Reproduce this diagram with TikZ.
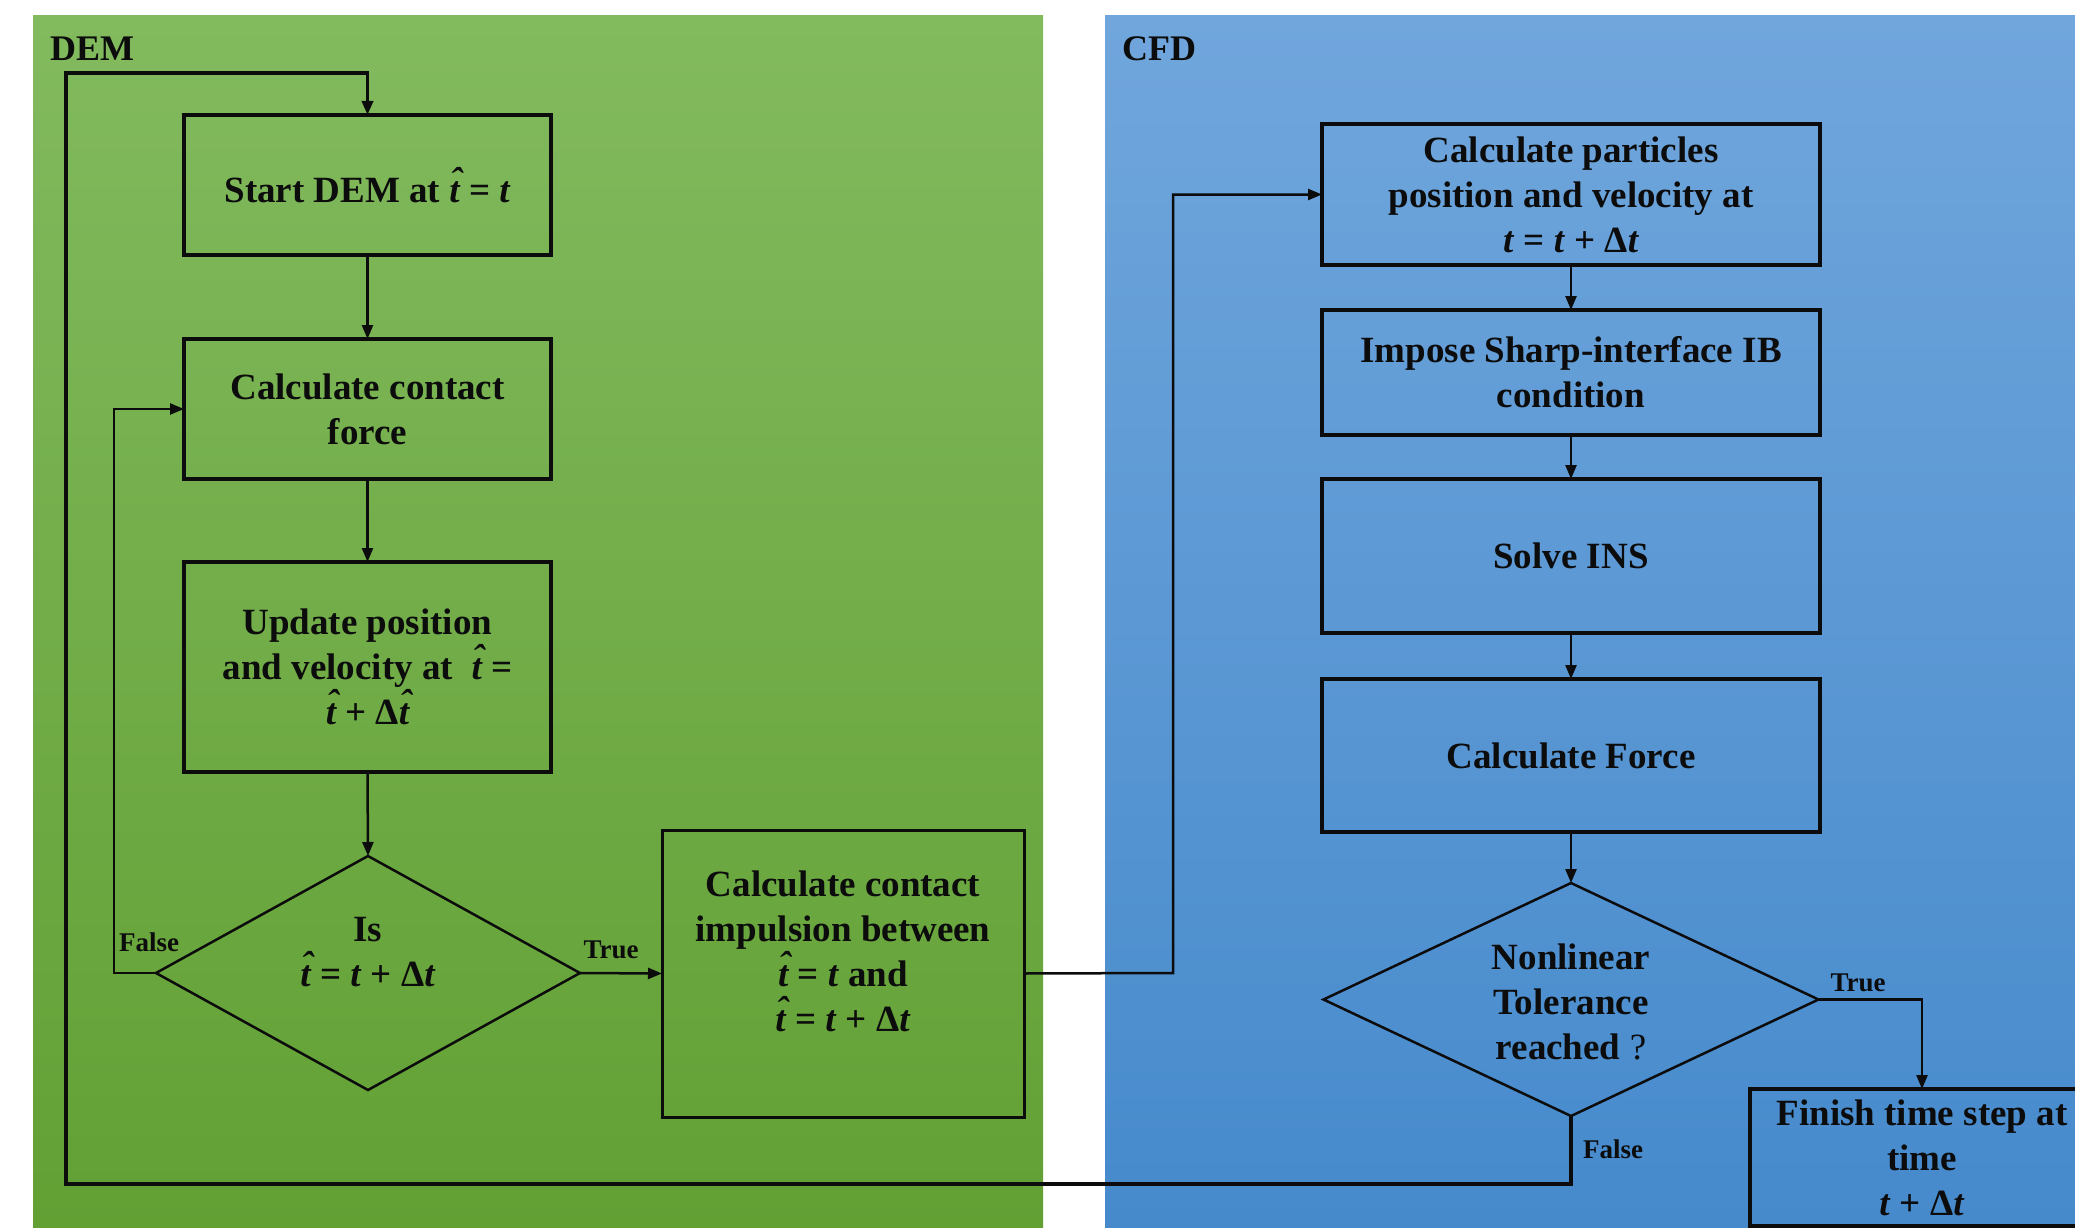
\documentclass[tikz,border=0pt]{standalone}
\usepackage{fontspec}
\setmainfont{Liberation Serif}
\usetikzlibrary{shapes.geometric,arrows.meta}
\definecolor{gtop}{RGB}{130,186,94}
\definecolor{gbot}{RGB}{98,160,52}
\definecolor{btop}{RGB}{112,166,220}
\definecolor{bbot}{RGB}{70,138,204}
\definecolor{ink}{RGB}{12,12,12}
\newcommand\tv{\textit{t}}
\newcommand\tth{{\itshape\setbox0\hbox{t}\rlap{\hbox to \wd0{\hss\kern0.08em\raisebox{0.24em}{\char"02C6}\hss}}t}}
\newcommand\dlt{\textup{Δ}}
\begin{document}
\begin{tikzpicture}[x=1pt,y=-1pt,
  every node/.style={font=\fontsize{37}{45}\selectfont\bfseries, text=ink, align=center},
  procbox/.style={draw=ink, line width=4pt, rectangle, inner sep=0pt, outer sep=0pt},
  decide/.style={draw=ink, line width=2.5pt, diamond, inner sep=0pt, outer sep=0pt},
  conn/.style={draw=ink, line width=2.5pt},
  arr/.style={conn, -{Triangle[length=14pt,width=11pt]}},
  tag/.style={font=\fontsize{27}{30}\selectfont\bfseries},
  panellbl/.style={font=\fontsize{36}{40}\selectfont\bfseries, anchor=west, inner sep=0pt}]
\clip (0,0) rectangle (2075,1228);
\fill[white] (0,0) rectangle (2075,1228);
\shade[top color=gtop,bottom color=gbot] (33,16) rectangle (1043,1228);
\shade[top color=btop,bottom color=bbot] (1105,16) rectangle (2075,1228);

\node[panellbl] (demlbl) at (50,49) {DEM};
\node[panellbl] (cfdlbl) at (1122,49) {CFD};

% DEM side
\node[procbox, minimum width=367pt, minimum height=140pt] (start) at (367.5,185) {Start DEM at \tth\ = \tv};
\node[procbox, minimum width=367pt, minimum height=140pt] (contact) at (367.5,409) {Calculate contact\\force};
\node[procbox, minimum width=367pt, minimum height=210pt] (update) at (367.5,667) {Update position\\and velocity at\ \ \tth\ =\\\tth\ + \dlt\tth};
\node[decide, minimum width=424pt, minimum height=234pt] (isd) at (368,973) {};
\node (istxt) at (368,952) {Is\\\tth\ = \tv\ + \dlt\tv};
\node[procbox, line width=3pt, minimum width=362pt, minimum height=287pt] (impulse) at (843,973.5) {};
\node (imptxt) at (843,951) {Calculate contact\\impulsion between\\\tth\ = \tv\ and\\\tth\ = \tv\ + \dlt\tv};

% CFD side
\node[procbox, minimum width=498pt, minimum height=141pt] (particles) at (1571,194.5) {Calculate particles\\position and velocity at\\\tv\ = \tv\ + \dlt\tv};
\node[procbox, minimum width=498pt, minimum height=125pt] (impose) at (1571,372.5) {Impose Sharp-interface IB\\condition};
\node[procbox, minimum width=498pt, minimum height=154pt] (solve) at (1571,556) {Solve INS};
\node[procbox, minimum width=498pt, minimum height=153pt] (force) at (1571,755.5) {Calculate Force};
\node[decide, minimum width=495pt, minimum height=233pt] (nld) at (1571,999.5) {};
\node (nltxt) at (1571,1002) {Nonlinear\\Tolerance\\reached {\mdseries ?}};
\node[procbox, minimum width=344pt, minimum height=137pt] (finish) at (1922,1157.5) {Finish time step at\\time\\\tv\ + \dlt\tv};

% coordinates for bends
\coordinate (fbend) at (114,973);
\coordinate (tbend) at (1173,973);
\coordinate (lb) at (66,1184);
\coordinate (lt) at (66,73);

% connectors
\draw[arr] (start.south) -- (contact.north);
\draw[arr] (contact.south) -- (update.north);
\draw[arr] (update.south) -- (isd.north);
\draw[arr] (isd.east) -- (impulse.west);
\draw[arr] (isd.west) -- (fbend) |- (contact.west);
\draw[arr] (impulse.east) -- (tbend) |- (particles.west);
\draw[arr] (particles.south) -- (impose.north);
\draw[arr] (impose.south) -- (solve.north);
\draw[arr] (solve.south) -- (force.north);
\draw[arr] (force.south) -- (nld.north);
\draw[arr] (nld.east) -| (finish.north);
\draw[arr, line width=3.5pt] (nld.south) |- (lb) -- (lt) -| (start.north);

% labels
\node[tag] (ltrue1) at (611,950) {True};
\node[tag] (lfalse1) at (149,942) {False};
\node[tag] (ltrue2) at (1858,983) {True};
\node[tag] (lfalse2) at (1613,1149) {False};
\end{tikzpicture}
\end{document}
